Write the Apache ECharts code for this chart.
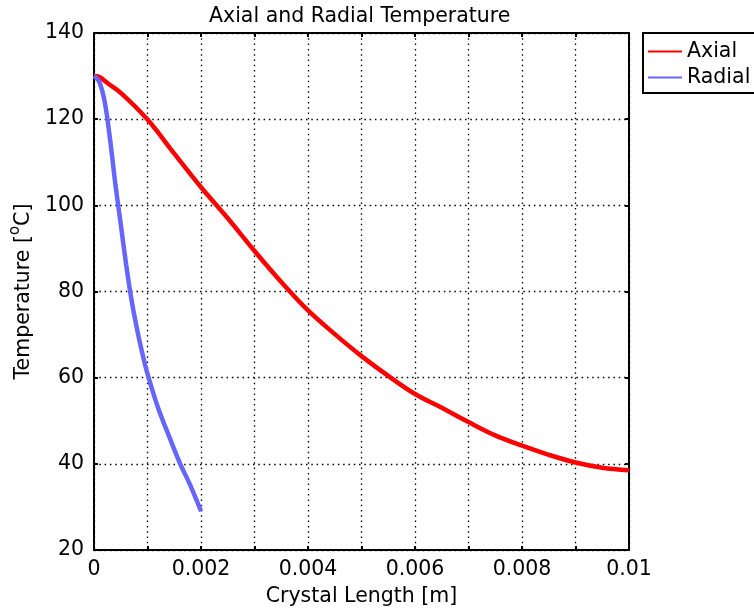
<!DOCTYPE html>
<html>
<head>
<meta charset="utf-8">
<script src="https://cdn.jsdelivr.net/npm/echarts@6/dist/echarts.min.js"></script>
<style>
  html, body { margin: 0; padding: 0; background: #fff; }
  #chart { width: 754px; height: 612px; }
</style>
</head>
<body>
<div id="chart"></div>
<script>
// Axial temperature profile along the crystal
const axialX = [0, 0.0001, 0.00025, 0.0005, 0.001, 0.0015, 0.002, 0.0025, 0.003, 0.0035, 0.004,
  0.0045, 0.005, 0.0055, 0.006, 0.0065, 0.007, 0.0075, 0.008, 0.0085, 0.009, 0.0095, 0.01];
const axialT = [130, 129.8, 128.4, 126.1, 119.9, 112.0, 104.2, 97.0, 89.4, 82.2, 75.6,
  70.1, 65.0, 60.4, 56.2, 53.0, 49.7, 46.6, 44.2, 42.1, 40.3, 39.1, 38.5];

// Radial temperature profile
const radialX = [0, 0.0001, 0.0002, 0.0003, 0.0004, 0.0005, 0.0006, 0.0007, 0.0008, 0.0009,
  0.001, 0.0012, 0.0014, 0.0016, 0.0018, 0.002];
const radialT = [130, 128.6, 124.0, 115.3, 104.8, 95.6, 86.3, 78.1, 71.5, 65.8,
  60.9, 52.9, 46.5, 40.3, 35.0, 29.0];

// Labelled ticks on the length axis (every other grid line)
const xTickLabels = ['0', '0.002', '0.004', '0.006', '0.008', '0.01'];
const seriesNames = ['Axial', 'Radial'];
const seriesColors = ['#ff0000', '#6666ff'];

const FONT = 'DejaVu Sans';

function pairs(xs, ys) {
  return xs.map((x, i) => [x, ys[i]]);
}

const gridLine = { show: true, lineStyle: { color: '#000', width: 1.3, type: [1.5, 3.8] } };
const frameLine = { show: true, onZero: false, lineStyle: { color: '#000', width: 2 } };
const innerTick = { show: true, inside: true, length: 4, lineStyle: { color: '#000', width: 2 } };

const chart = echarts.init(document.getElementById('chart'), null, { renderer: 'canvas' });

chart.setOption({
  animation: false,
  backgroundColor: '#fff',
  title: {
    text: 'Axial and Radial Temperature',
    left: 209,
    top: 6,
    padding: 0,
    textStyle: { fontFamily: FONT, fontSize: 20.5, fontWeight: 'normal', color: '#000' }
  },
  legend: {
    left: 643,
    top: 33,
    orient: 'vertical',
    padding: [8, 6, 5, 5],
    itemGap: 5,
    itemWidth: 34,
    itemHeight: 2.2,
    icon: 'rect',
    borderColor: '#000',
    borderWidth: 2,
    borderRadius: 0,
    textStyle: { fontFamily: FONT, fontSize: 20.5, color: '#000' },
    data: seriesNames
  },
  grid: {
    left: 93,
    top: 33,
    width: 536,
    height: 518,
    containLabel: false
  },
  xAxis: [
    {
      type: 'value',
      position: 'bottom',
      min: 0,
      max: 0.01,
      interval: 0.001,
      name: 'Crystal Length [m]',
      nameLocation: 'middle',
      nameGap: 36,
      nameTextStyle: { fontFamily: FONT, fontSize: 20.5, color: '#000' },
      axisLine: frameLine,
      axisTick: innerTick,
      splitLine: gridLine,
      axisLabel: {
        margin: 9,
        fontFamily: FONT,
        fontSize: 20.5,
        color: '#000',
        showMinLabel: true,
        showMaxLabel: true,
        formatter: function (v) {
          const k = Math.round(v / 0.001);
          return k % 2 === 0 ? xTickLabels[k / 2] : '';
        }
      }
    },
    {
      type: 'value',
      position: 'top',
      min: 0,
      max: 0.01,
      interval: 0.001,
      axisLine: frameLine,
      axisTick: innerTick,
      splitLine: { show: false },
      axisLabel: { show: false }
    }
  ],
  yAxis: [
    {
      type: 'value',
      position: 'left',
      min: 20,
      max: 140,
      interval: 20,
      name: '{n|Temperature [}{s|o}{n|C]}',
      nameLocation: 'middle',
      nameGap: 54,
      nameRotate: 90,
      nameTextStyle: {
        fontFamily: FONT,
        color: '#000',
        rich: {
          n: { fontFamily: FONT, fontSize: 20.5, lineHeight: 26, color: '#000', verticalAlign: 'bottom' },
          s: { fontFamily: FONT, fontSize: 15, lineHeight: 16, color: '#000', verticalAlign: 'top' }
        }
      },
      axisLine: frameLine,
      axisTick: innerTick,
      splitLine: gridLine,
      axisLabel: { margin: 10, fontFamily: FONT, fontSize: 20.5, color: '#000' }
    },
    {
      type: 'value',
      position: 'right',
      min: 20,
      max: 140,
      interval: 20,
      axisLine: frameLine,
      axisTick: innerTick,
      splitLine: { show: false },
      axisLabel: { show: false }
    }
  ],
  series: [
    {
      name: seriesNames[0],
      type: 'line',
      xAxisIndex: 0,
      yAxisIndex: 0,
      data: pairs(axialX, axialT),
      symbol: 'none',
      smooth: 0.35,
      color: seriesColors[0],
      lineStyle: { color: seriesColors[0], width: 4.5 }
    },
    {
      name: seriesNames[1],
      type: 'line',
      xAxisIndex: 0,
      yAxisIndex: 0,
      data: pairs(radialX, radialT),
      symbol: 'none',
      smooth: 0.35,
      color: seriesColors[1],
      lineStyle: { color: seriesColors[1], width: 4.5 }
    }
  ]
});
</script>
</body>
</html>
